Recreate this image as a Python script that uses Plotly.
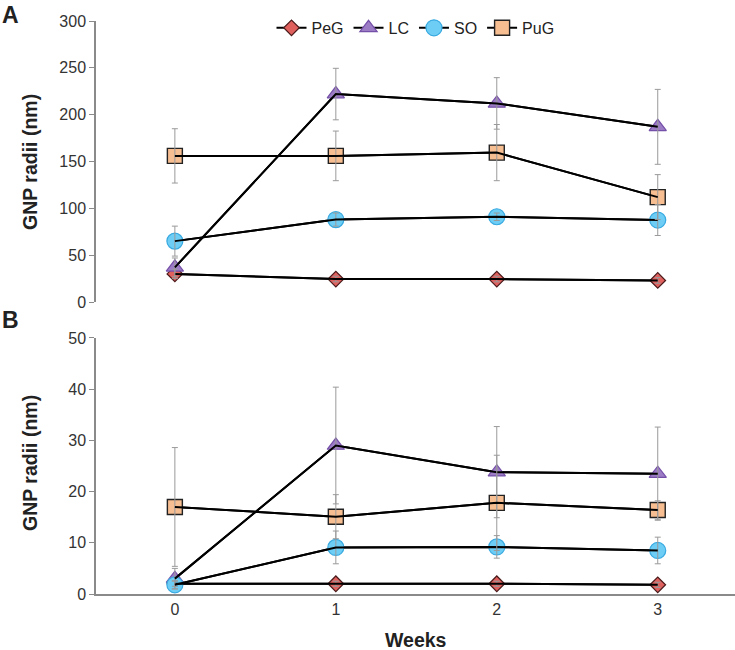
import plotly.graph_objects as go

# Semanas
weeks = [0, 1, 2, 3]
series = ["PeG", "LC", "SO", "PuG"]

# Painel A (nm)
a_peg = [30, 24.5, 24.5, 23]
a_peg_err = [5, 3, 3, 3]
a_lc = [37, 222, 212, 187]
a_lc_err = [10, 27.5, 27.5, 40]
a_so = [65, 88, 91, 87.5]
a_so_err = [16, 7, 4, 16.5]
a_pug = [156, 156, 159.5, 112]
a_pug_err = [29, 26.5, 30, 24]

# Painel B (nm)
b_peg = [2, 2, 2, 1.8]
b_peg_err = [0.5, 0.5, 0.5, 0.5]
b_lc = [3, 29, 23.8, 23.5]
b_lc_err = [2, 11.4, 8.9, 9.1]
b_so = [1.8, 9.1, 9.2, 8.5]
b_so_err = [0.8, 3.2, 2.2, 2.6]
b_pug = [17, 15.1, 17.8, 16.4]
b_pug_err = [11.6, 4.3, 9.3, 1.8]

panel_a = [(a_peg, a_peg_err), (a_lc, a_lc_err), (a_so, a_so_err), (a_pug, a_pug_err)]
panel_b = [(b_peg, b_peg_err), (b_lc, b_lc_err), (b_so, b_so_err), (b_pug, b_pug_err)]

styles = {
    "PeG": dict(symbol="diamond", size=12, color="#e0605e", line=dict(color="#4a1a1a", width=1.2)),
    "LC": dict(symbol="triangle-up", size=15, color="#9d7cc6", line=dict(color="#7550a8", width=1.2)),
    "SO": dict(symbol="circle", size=16, color="#6dcdf4", line=dict(color="#38a9e0", width=1.2)),
    "PuG": dict(symbol="square", size=15, color="#f7be92", line=dict(color="#222222", width=1.4)),
}

font_family = "Liberation Sans, Arial, sans-serif"
fig = go.Figure()

for panel, (xa, ya) in [(panel_a, ("x", "y")), (panel_b, ("x2", "y2"))]:
    for name, (vals, errs) in zip(series, panel):
        # marcadores (linha por baixo)
        fig.add_trace(go.Scatter(
            x=weeks, y=vals, mode="lines+markers", name=name,
            marker=styles[name], line=dict(color="black", width=2),
            showlegend=(xa == "x"), xaxis=xa, yaxis=ya,
        ))
    for name, (vals, errs) in zip(series, panel):
        # barras de erro e linha por cima dos marcadores
        fig.add_trace(go.Scatter(
            x=weeks, y=vals, mode="lines", showlegend=False,
            line=dict(color="black", width=2),
            error_y=dict(type="data", array=errs, color="#9a9a9a", thickness=1, width=3),
            xaxis=xa, yaxis=ya,
        ))

axis_common = dict(showgrid=False, zeroline=False, linecolor="#8a8a8a", linewidth=1.5,
                   automargin=False,
                   tickfont=dict(family=font_family, size=16, color="#333333"))

fig.update_layout(
    width=735, height=650,
    margin=dict(l=96, r=0, t=21, b=56),
    plot_bgcolor="white", paper_bgcolor="white",
    font=dict(family=font_family, color="#222222"),
    xaxis=dict(domain=[0, 1], anchor="y", range=[-0.49, 3.48], showline=False, automargin=False,
               showticklabels=False, ticks="", showgrid=False, zeroline=False, matches="x2"),
    yaxis=dict(domain=[0.5096, 1], anchor="x", range=[0, 300], tickvals=[0, 50, 100, 150, 200, 250, 300],
               showline=True, ticks="outside", ticklen=5, tickcolor="#8a8a8a", **axis_common),
    xaxis2=dict(domain=[0, 1], anchor="y2", range=[-0.49, 3.48], tickvals=weeks,
                showline=True, ticks="", **axis_common),
    yaxis2=dict(domain=[0, 0.4468], anchor="x2", range=[0, 50], tickvals=[0, 10, 20, 30, 40, 50],
                showline=True, ticks="outside", ticklen=5, tickcolor="#8a8a8a", **axis_common),
    legend=dict(orientation="h", x=0.5, xanchor="center", y=0.988, yanchor="middle",
                font=dict(family=font_family, size=16, color="#222222"),
                bgcolor="rgba(0,0,0,0)", itemwidth=30),
)

bold = dict(family=font_family, size=19.5, color="#222222")
letter = dict(family=font_family, size=23, color="#222222")
fig.add_annotation(text="<b>A</b>", xref="paper", yref="paper", x=-96/639, y=1 + 6/573,
                   xanchor="left", yanchor="middle", showarrow=False, font=letter)
fig.add_annotation(text="<b>B</b>", xref="paper", yref="paper", x=-96/639, y=(594 - 320)/573,
                   xanchor="left", yanchor="middle", showarrow=False, font=letter)
fig.add_annotation(text="<b>GNP radii (nm)</b>", xref="paper", yref="paper", x=-66/639, y=(594 - 162)/573,
                   textangle=-90, xanchor="center", yanchor="middle", showarrow=False, font=bold)
fig.add_annotation(text="<b>GNP radii (nm)</b>", xref="paper", yref="paper", x=-66/639, y=(594 - 463)/573,
                   textangle=-90, xanchor="center", yanchor="middle", showarrow=False, font=bold)
fig.add_annotation(text="<b>Weeks</b>", xref="paper", yref="paper", x=0.5, y=-46/573,
                   xanchor="center", yanchor="middle", showarrow=False, font=bold)

# a página tem margem de 8px por padrão; zera para alinhar com a janela
fig.write_html("out.html", config={"displayModeBar": False},
               post_script="document.body.style.margin='0';document.body.style.overflow='hidden';")
